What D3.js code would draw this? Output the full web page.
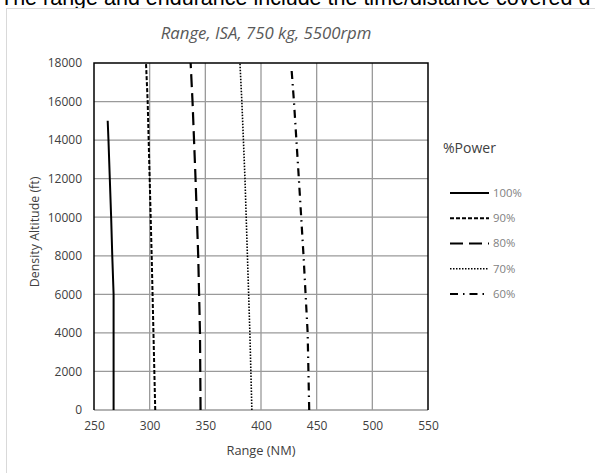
<!DOCTYPE html>
<html><head><meta charset="utf-8">
<script src="https://cdn.jsdelivr.net/npm/d3@7"></script>
<style>body{margin:0;background:#fff;overflow:hidden}svg{display:block}</style>
</head><body>
<svg id="c" width="595" height="473"></svg>
<script>
const xTicks = [250, 300, 350, 400, 450, 500, 550];
const yTicks = [0, 2000, 4000, 6000, 8000, 10000, 12000, 14000, 16000, 18000];
const seriesNames = ["100%", "90%", "80%", "70%", "60%"];
const alt100 = [0, 2000, 4000, 6000, 8000, 10000, 12000, 14000, 15000];
const rng100 = [267.6, 267.6, 267.6, 267.6, 266.4, 265.4, 264.2, 263.0, 262.3];
const alt90 = [0, 4000, 8000, 12000, 16000, 18000];
const rng90 = [305.0, 303.4, 301.8, 300.0, 298.2, 296.7];
const alt80 = [0, 4000, 8000, 12000, 16000, 18000];
const rng80 = [345.7, 345.2, 343.6, 341.2, 338.5, 336.8];
const alt70 = [0, 4000, 8000, 12000, 16000, 18000];
const rng70 = [391.8, 390.0, 387.8, 385.6, 382.8, 381.1];
const alt60 = [0, 4000, 8000, 12000, 16000, 17700];
const rng60 = [443.3, 441.9, 438.2, 434.0, 429.6, 427.4];

const series = [
  {name: seriesNames[0], alt: alt100, rng: rng100, dash: null, w: 2},
  {name: seriesNames[1], alt: alt90, rng: rng90, dash: "4,2", w: 2},
  {name: seriesNames[2], alt: alt80, rng: rng80, dash: "13,6", w: 2.2},
  {name: seriesNames[3], alt: alt70, rng: rng70, dash: "1.5,1.5", w: 1.6},
  {name: seriesNames[4], alt: alt60, rng: rng60, dash: "8,5,1.5,5", w: 2.2}
];

const svg = d3.select("#c");
// top cropped text (partially visible in the reference)
svg.append("text").attr("x", 0).attr("y", 5).attr("font-family", "Liberation Sans, Arial, sans-serif")
  .attr("font-size", 21.5).attr("fill", "#000").text("The range and endurance include the time/distance covered d");
// chart area border
svg.append("rect").attr("x", 6.5).attr("y", 8.5).attr("width", 600).attr("height", 480)
  .attr("fill", "#fff").attr("stroke", "#d9d9d9").attr("stroke-width", 1);

const L = 94, R = 428, T = 63, B = 410;
const x = d3.scaleLinear().domain([250, 550]).range([L, R]);
const y = d3.scaleLinear().domain([0, 18000]).range([B, T]);

svg.append("text").attr("x", 266).attr("y", 39).attr("text-anchor", "middle")
  .attr("font-family", "Open Sans, sans-serif").attr("font-style", "italic").attr("font-size", 16.8)
  .attr("fill", "#595959").text("Range, ISA, 750 kg, 5500rpm");

const g = svg.append("g");
// grid
g.selectAll(".vg").data(xTicks.slice(1, -1)).enter().append("line")
  .attr("x1", d => x(d)).attr("x2", d => x(d)).attr("y1", T).attr("y2", B)
  .attr("stroke", "#9a9a9a").attr("stroke-width", 1.3);
g.selectAll(".hg").data(yTicks.slice(1, -1)).enter().append("line")
  .attr("x1", L).attr("x2", R).attr("y1", d => y(d)).attr("y2", d => y(d))
  .attr("stroke", "#9a9a9a").attr("stroke-width", 1.3);
// border
g.append("line").attr("x1", L).attr("x2", R).attr("y1", B).attr("y2", B).attr("stroke", "#9a9a9a").attr("stroke-width", 1.5);
g.append("path").attr("d", `M${L},${B}V${T}H${R}V${B}`).attr("fill", "none").attr("stroke", "#000").attr("stroke-width", 1.5);

// axes
const xAxis = d3.axisBottom(x).tickValues(xTicks).tickSize(0).tickPadding(11);
const xa = svg.append("g").attr("transform", `translate(0,${B})`).call(xAxis);
const yAxis = d3.axisLeft(y).tickValues(yTicks).tickSize(0).tickPadding(12).tickFormat(d3.format("d"));
const ya = svg.append("g").attr("transform", `translate(${L},0)`).call(yAxis);
[xa, ya].forEach(a => {
  a.select(".domain").remove();
  a.selectAll("text").attr("font-family", "Open Sans, sans-serif").attr("font-size", 12).attr("fill", "#404040");
});

svg.append("text").attr("x", 261).attr("y", 455).attr("text-anchor", "middle")
  .attr("font-family", "Open Sans, sans-serif").attr("font-size", 12.8).attr("fill", "#404040").text("Range (NM)");
svg.append("text").attr("transform", "translate(39,232) rotate(-90)").attr("text-anchor", "middle")
  .attr("font-family", "Open Sans, sans-serif").attr("font-size", 12.4).attr("fill", "#404040").text("Density Altitude (ft)");

const line = d3.line().x(d => x(d[1])).y(d => y(d[0]));
series.forEach(s => {
  const pts = s.alt.map((a, i) => [a, s.rng[i]]);
  g.append("path").attr("d", line(pts)).attr("fill", "none").attr("stroke", "#000")
    .attr("stroke-width", s.w).attr("stroke-dasharray", s.dash);
});

// legend
svg.append("text").attr("x", 443).attr("y", 153).attr("font-family", "Open Sans, sans-serif")
  .attr("font-size", 14).attr("fill", "#404040").text("%Power");
const ly = d3.scalePoint().domain(seriesNames).range([193, 294]);
series.forEach(s => {
  svg.append("line").attr("x1", 450).attr("x2", 489).attr("y1", ly(s.name)).attr("y2", ly(s.name))
    .attr("stroke", "#000").attr("stroke-width", s.w).attr("stroke-dasharray", s.dash);
  svg.append("text").attr("x", 493).attr("y", ly(s.name)).attr("dy", "0.35em")
    .attr("font-family", "Open Sans, sans-serif").attr("font-size", 11.3).attr("fill", "#7f7f7f").text(s.name);
});
</script>
</body></html>
